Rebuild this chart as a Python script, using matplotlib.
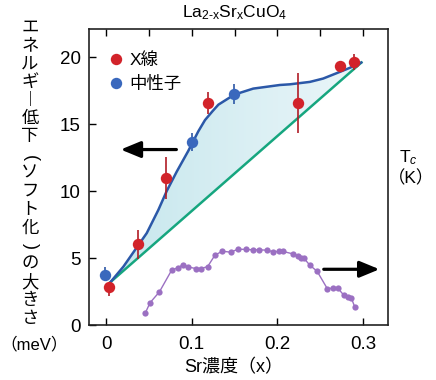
import numpy as np
import matplotlib
matplotlib.use("Agg")
import matplotlib.pyplot as plt
from matplotlib.lines import Line2D
from matplotlib.patches import Polygon
from matplotlib.colors import LinearSegmentedColormap
from matplotlib.ticker import MultipleLocator

plt.rcParams['font.family'] = ['Liberation Sans', 'Noto Sans CJK JP']
plt.rcParams['mathtext.fontset'] = 'custom'
plt.rcParams['mathtext.rm'] = 'Liberation Sans'
plt.rcParams['mathtext.it'] = 'Liberation Sans:italic'

# ---------------- data ----------------
xray_x = [0.0035, 0.037, 0.0695, 0.119, 0.224, 0.2727, 0.289]
xray_y = [2.82, 6.05, 10.95, 16.57, 16.55, 19.32, 19.65]
xray_err_lo = [0.62, 1.15, 1.55, 0.85, 2.25, 0.0, 0.6]
xray_err_hi = [0.3, 1.05, 1.6, 0.85, 2.25, 0.0, 0.55]

neutron_x = [-0.0012, 0.0999, 0.149]
neutron_y = [3.72, 13.65, 17.22]
neutron_err_lo = [0.3, 0.68, 0.75]
neutron_err_hi = [0.6, 0.65, 0.75]

guide_x = [0.005, 0.0202, 0.0338, 0.0474, 0.061, 0.0707, 0.0824, 0.0959, 0.0999,
           0.1075, 0.1154, 0.124, 0.131, 0.1496, 0.1717, 0.2028, 0.2145, 0.2378,
           0.2533, 0.269, 0.2844, 0.298]
guide_y = [3.2, 4.36, 5.61, 6.86, 8.6, 10.0, 11.45, 13.0, 13.5,
           14.45, 15.3, 15.95, 16.45, 17.2, 17.65, 17.92, 17.97, 18.15,
           18.4, 18.8, 19.2, 19.6]

baseline_x = [0.005, 0.298]
baseline_y = [3.2, 19.6]

tc_x = [0.0455, 0.0513, 0.0622, 0.0765, 0.0843, 0.0893, 0.0952, 0.1045, 0.1107,
        0.1185, 0.127, 0.1356, 0.1453, 0.1538, 0.1632, 0.171, 0.179, 0.188,
        0.195, 0.202, 0.2063, 0.2183, 0.2241, 0.228, 0.2311, 0.2378, 0.2463,
        0.2583, 0.265, 0.2708, 0.2774, 0.2824, 0.2863, 0.2902]
tc_k = [5.9, 11.3, 16.8, 27.8, 29.1, 30.5, 29.5, 28.6, 28.6,
        29.6, 35.4, 37.4, 36.9, 38.4, 38.3, 38.1, 38.1, 37.9,
        37.1, 37.3, 37.3, 36.0, 35.0, 34.2, 33.7, 30.3, 27.2,
        18.3, 18.8, 18.5, 15.1, 14.4, 13.5, 9.2]

x_ticks = [0, 0.1, 0.2, 0.3]
x_tick_labels = ["0", "0.1", "0.2", "0.3"]
y_ticks = [0, 5, 10, 15, 20]

title_text = r"La$_{\text{2-x}}$Sr$_{\text{x}}$CuO$_{\text{4}}$"
# vertical label; parentheses are turned to read vertically
ylabel_chars = ["エ", "ネ", "ル", "ギ", "︱", "低", "下", "(", "ソ", "フ", "ト",
                "化", ")", "の", "大", "き", "さ"]
ylabel_unit = "（meV）"
xlabel_text = "Sr濃度（x）"
legend_labels = ["X線", "中性子"]

# ---------------- colors ----------------
RED = "#d2232a"
RED_ERR = "#b01c26"
BLUE = "#3a68bd"
BLUE_ERR = "#2d58a6"
CURVE = "#2b58a8"
GREEN = "#16a67f"
PURPLE = "#9b70c2"

W, H = 436, 380
fig = plt.figure(figsize=(W / 100, H / 100), dpi=100)
ax = fig.add_axes([89 / W, 1 - 325 / H, (388 - 89) / W, (325 - 29) / H])

# gradient fill between guide curve and baseline
pts = np.column_stack([guide_x, guide_y])
poly = Polygon(pts, closed=True, transform=ax.transData, facecolor='none',
               edgecolor='none')
ax.add_patch(poly)
cmap = LinearSegmentedColormap.from_list("fill", ["#c6e7ed", "#ebf6f9"])
grad = np.linspace(0, 1, 256).reshape(1, -1)
im = ax.imshow(grad, extent=[min(guide_x), max(guide_x), min(guide_y), max(guide_y)],
               aspect='auto', cmap=cmap, origin='lower', zorder=1)
im.set_clip_path(poly)

ax.plot(baseline_x, baseline_y, color=GREEN, lw=1.8, zorder=2)
ax.plot(guide_x, guide_y, color=CURVE, lw=1.8, zorder=3, solid_capstyle='round')

ms = 8.2
ax.errorbar(neutron_x, neutron_y, yerr=[neutron_err_lo, neutron_err_hi], fmt='o',
            color=BLUE, ecolor=BLUE_ERR, ms=ms, mew=0, elinewidth=1.2,
            capsize=3.5, capthick=1.2, zorder=4)
ax.errorbar(xray_x, xray_y, yerr=[xray_err_lo, xray_err_hi], fmt='o',
            color=RED, ecolor=RED_ERR, ms=ms, mew=0, elinewidth=1.2,
            capsize=3.5, capthick=1.2, zorder=5)

# arrows
ax.annotate("", xy=(0.017, 13.1), xytext=(0.082, 13.1),
            arrowprops=dict(arrowstyle='-|>,head_length=0.8,head_width=0.33',
                            lw=2.3, color='black', mutation_scale=15,
                            shrinkA=0, shrinkB=0), zorder=6)
ax.annotate("", xy=(0.319, 4.16), xytext=(0.254, 4.16),
            arrowprops=dict(arrowstyle='-|>,head_length=0.8,head_width=0.33',
                            lw=2.3, color='black', mutation_scale=15,
                            shrinkA=0, shrinkB=0), zorder=6)

ax.set_xlim(-0.02, 0.329)
ax.set_ylim(0, 22.1)
ax.set_xticks(x_ticks)
ax.set_xticklabels(x_tick_labels)
ax.set_yticks(y_ticks)
ax.xaxis.set_minor_locator(MultipleLocator(0.05))
ax.tick_params(axis='both', which='major', direction='in', length=5, width=1,
               labelsize=13.5, colors='black')
ax.tick_params(axis='x', which='major', top=True, bottom=True, pad=8)
ax.tick_params(axis='y', which='major', left=True, right=False, pad=6)
ax.tick_params(axis='x', which='minor', direction='in', length=5, width=1,
               top=True, bottom=False)
for s in ax.spines.values():
    s.set_linewidth(1.2)
    s.set_color('#222222')

# Tc on twin axis
ax2 = ax.twinx()
ax2.plot(tc_x, tc_k, color=PURPLE, lw=1.0, marker='o', ms=4.5, mew=0, zorder=3)
ax2.set_ylim(0, 150)
ax2.tick_params(right=False, labelright=False)
for s in ax2.spines.values():
    s.set_visible(False)

# legend
handles = [Line2D([], [], marker='o', ls='none', color=RED, ms=ms, mew=0),
           Line2D([], [], marker='o', ls='none', color=BLUE, ms=ms, mew=0)]
leg = ax.legend(handles, legend_labels, loc='upper left',
                bbox_to_anchor=(0.068, 0.922), frameon=False, fontsize=12.5,
                handlelength=0.8, handletextpad=0.35, labelspacing=0.45,
                borderpad=0, borderaxespad=0)

# titles and labels
fig.text(235 / W, 1 - 13 / H, title_text, ha='center', va='center', fontsize=12.5)
em = 12.5 * 100 / 72
for i, ch in enumerate(ylabel_chars):
    cy = 25.5 + 18.2 * i
    if ch == "(":
        fig.text(30 / W, 1 - (cy + 5) / H, ch, ha='center', va='center',
                 rotation=-90, fontsize=13, family=['Liberation Sans'])
    elif ch == ")":
        fig.text(30 / W, 1 - (cy + 2) / H, ch, ha='center', va='center',
                 rotation=-90, fontsize=13, family=['Liberation Sans'])
    else:
        fig.text(30 / W, 1 - (cy + 0.38 * em) / H, ch, ha='center', va='baseline',
                 fontsize=12.5, family=['Noto Sans CJK JP'])
fig.text(34 / W, 1 - 344 / H, ylabel_unit, ha='center', va='center', fontsize=12)
fig.text(234 / W, 1 - 368 / H, xlabel_text, ha='center', va='center', fontsize=13)
fig.text(408 / W, 1 - 158 / H, r"T$_{\mathit{c}}$", ha='center', va='center',
         fontsize=12.5)
fig.text(411 / W, 1 - 178 / H, "（K）", ha='center', va='center', fontsize=12.5)

fig.savefig("out.png", dpi=100)
